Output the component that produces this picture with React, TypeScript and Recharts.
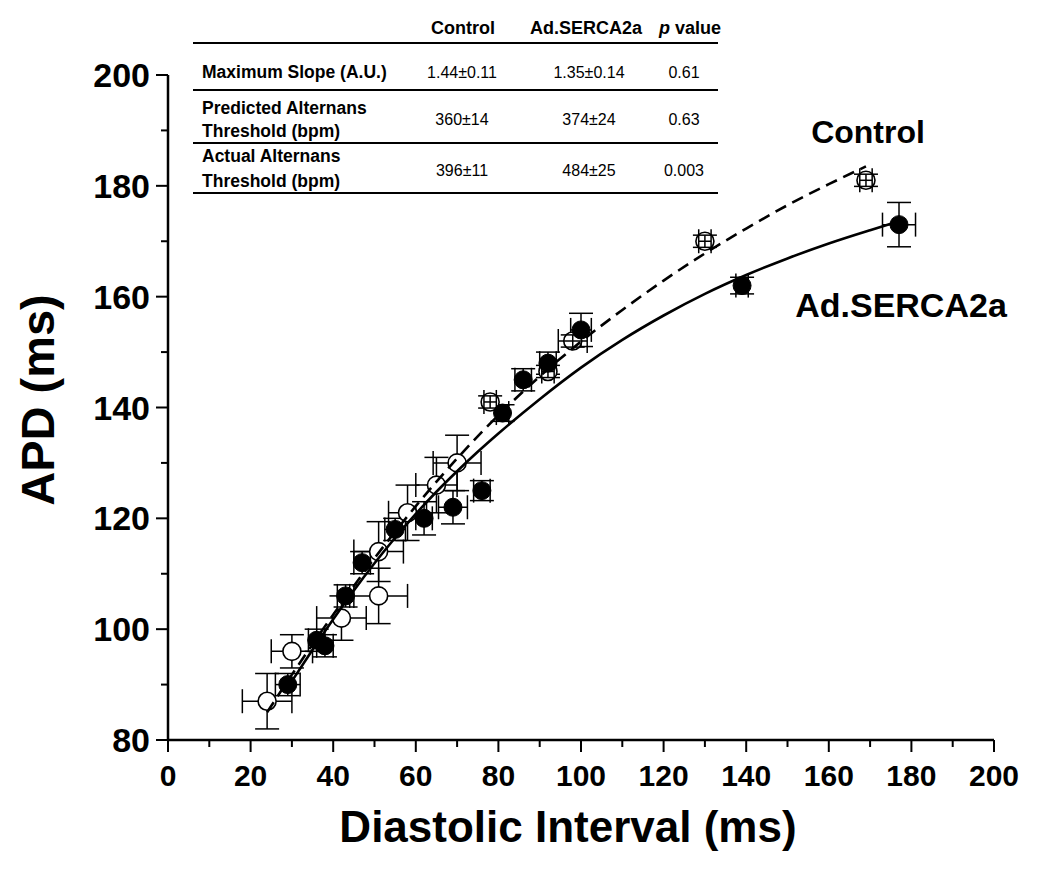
import React from 'react';
import { ComposedChart, Scatter, XAxis, YAxis, ErrorBar } from 'recharts';

// Control, open circles with visible error bars
const controlPoints = [
  { x: 24, y: 87, xerr: 6, yerr: 5 },
  { x: 30, y: 96, xerr: 5, yerr: 3 },
  { x: 42, y: 102, xerr: 6, yerr: 4 },
  { x: 51, y: 106, xerr: 7, yerr: 5 },
  { x: 51, y: 114, xerr: 6, yerr: 5.4 },
  { x: 58, y: 121, xerr: 4.6, yerr: 5 },
  { x: 65, y: 126, xerr: 5, yerr: 5 },
  { x: 70, y: 130, xerr: 5.8, yerr: 5 },
];

// Control points whose error bars sit inside the symbol
const controlSmallErr = [
  { x: 78, y: 141, xerr: 1.5, yerr: 1.1 },
  { x: 92, y: 146.5, xerr: 1.5, yerr: 1.1 },
  { x: 98, y: 152, xerr: 3.5, yerr: 1.1 },
  { x: 130, y: 170, xerr: 1.5, yerr: 1.1 },
  { x: 169, y: 181, xerr: 1.5, yerr: 1.1 },
];

// Ad.SERCA2a, filled circles
const sercaPoints = [
  { x: 29, y: 90, xerr: 3, yerr: 2 },
  { x: 36, y: 98, xerr: 2, yerr: 2 },
  { x: 38, y: 97, xerr: 2, yerr: 2 },
  { x: 43, y: 106, xerr: 2, yerr: 2 },
  { x: 47, y: 112, xerr: 2, yerr: 2 },
  { x: 55, y: 118, xerr: 2.5, yerr: 2 },
  { x: 62, y: 120, xerr: 2, yerr: 3 },
  { x: 69, y: 122, xerr: 3.5, yerr: 3 },
  { x: 76, y: 125, xerr: 2, yerr: 1.8 },
  { x: 81, y: 139, xerr: 1.5, yerr: 1.5 },
  { x: 86, y: 145, xerr: 2, yerr: 2 },
  { x: 92, y: 148, xerr: 2, yerr: 2 },
  { x: 100, y: 154, xerr: 2.5, yerr: 3 },
  { x: 139, y: 162, xerr: 1.5, yerr: 1.5 },
  { x: 177, y: 173, xerr: 4, yerr: 4 },
];

// fitted restitution curves
const controlFit = [
  { x: 24, y: 85 }, { x: 30, y: 91.8 }, { x: 40, y: 102.6 }, { x: 50, y: 112.8 },
  { x: 60, y: 122.2 }, { x: 70, y: 130.8 }, { x: 80, y: 138.6 }, { x: 90, y: 145.6 },
  { x: 100, y: 151.9 }, { x: 110, y: 157.6 }, { x: 120, y: 162.9 }, { x: 130, y: 167.8 },
  { x: 140, y: 172.3 }, { x: 150, y: 176.5 }, { x: 160, y: 180.3 }, { x: 169, y: 183.5 },
];
const sercaFit = [
  { x: 29, y: 89.5 }, { x: 35, y: 96.3 }, { x: 40, y: 101.8 }, { x: 45, y: 107 },
  { x: 50, y: 111.9 }, { x: 55, y: 116.5 }, { x: 60, y: 120.8 }, { x: 65, y: 124.8 },
  { x: 70, y: 128.5 }, { x: 75, y: 132 }, { x: 80, y: 135.3 }, { x: 90, y: 141.5 },
  { x: 100, y: 147.2 }, { x: 110, y: 152.2 }, { x: 120, y: 156.6 }, { x: 130, y: 160.5 },
  { x: 140, y: 163.9 }, { x: 150, y: 166.9 }, { x: 160, y: 169.6 }, { x: 170, y: 172 },
  { x: 177, y: 173.6 },
];

const xTicks = [0, 10, 20, 30, 40, 50, 60, 70, 80, 90, 100, 110, 120, 130, 140, 150, 160, 170, 180, 190, 200];
const yTicks = [80, 90, 100, 110, 120, 130, 140, 150, 160, 170, 180, 190, 200];

const tableHeader = ['Control', 'Ad.SERCA2a'];
const tableLabels = [['Maximum Slope (A.U.)'], ['Predicted Alternans', 'Threshold (bpm)'], ['Actual Alternans', 'Threshold (bpm)']];
const tableControl = ['1.44±0.11', '360±14', '396±11'];
const tableSerca = ['1.35±0.14', '374±24', '484±25'];
const tablePValue = ['0.61', '0.63', '0.003'];

const FONT = '"Liberation Sans", Arial, sans-serif';

const XTick = (props: any) => {
  const { x, y, payload } = props;
  const major = payload.value % 20 === 0;
  return (
    <g>
      <line x1={x} y1={y} x2={x} y2={y + (major ? 12 : 7)} stroke="#000" strokeWidth={2} />
      {major && (
        <text x={x} y={y + 46} textAnchor="middle" fontFamily={FONT} fontWeight="bold" fontSize={30} fill="#000">
          {payload.value}
        </text>
      )}
    </g>
  );
};

const YTick = (props: any) => {
  const { x, y, payload } = props;
  const major = payload.value % 20 === 0;
  return (
    <g>
      <line x1={x - (major ? 12 : 7)} y1={y} x2={x} y2={y} stroke="#000" strokeWidth={2} />
      {major && (
        <text x={x - 18} y={y + 12} textAnchor="end" fontFamily={FONT} fontWeight="bold" fontSize={34} fill="#000">
          {payload.value}
        </text>
      )}
    </g>
  );
};

const OpenDot = (props: any) => (
  <circle cx={props.cx} cy={props.cy} r={9} fill="#fff" stroke="#000" strokeWidth={1.6} />
);
const FilledDot = (props: any) => (
  <circle cx={props.cx} cy={props.cy} r={9} fill="#000" stroke="#000" strokeWidth={1} />
);
const NoDot = () => <g />;

const errProps = { stroke: '#000', strokeWidth: 1.5, width: 12 };

const StatsTable = () => {
  const lines = [35, 82, 135, 185];
  const rowY = [70, 117, 168];
  const labelY = [[70], [106, 129], [154, 179]];
  return (
    <g fontFamily={FONT} fill="#000">
      <text x={455} y={26} textAnchor="middle" fontWeight="bold" fontSize={18}>{tableHeader[0]}</text>
      <text x={578} y={26} textAnchor="middle" fontWeight="bold" fontSize={18}>{tableHeader[1]}</text>
      <text x={682} y={26} textAnchor="middle" fontWeight="bold" fontSize={18}>
        <tspan fontStyle="italic">p</tspan> value
      </text>
      {lines.map((ly) => (
        <line key={ly} x1={185} x2={710} y1={ly} y2={ly} stroke="#000" strokeWidth={2} />
      ))}
      {tableLabels.map((lbl, i) =>
        lbl.map((t, j) => (
          <text key={`${i}-${j}`} x={194} y={labelY[i][j]} fontWeight="bold" fontSize={17.5}>{t}</text>
        ))
      )}
      {rowY.map((ry, i) => (
        <g key={ry} fontSize={16}>
          <text x={454} y={ry} textAnchor="middle">{tableControl[i]}</text>
          <text x={581} y={ry} textAnchor="middle">{tableSerca[i]}</text>
          <text x={676} y={ry} textAnchor="middle">{tablePValue[i]}</text>
        </g>
      ))}
    </g>
  );
};

const App = () => (
  <div style={{ position: 'relative', width: 1042, height: 885 }}>
    <ComposedChart width={1042} height={885} margin={{ top: 67, right: 56, bottom: 0, left: 0 }}>
      <XAxis type="number" dataKey="x" domain={[0, 200]} ticks={xTicks} interval={0}
        allowDataOverflow tick={<XTick />} tickLine={false} tickSize={0} tickMargin={0} height={153}
        axisLine={{ stroke: '#000', strokeWidth: 2.5 }} />
      <YAxis type="number" dataKey="y" domain={[80, 200]} ticks={yTicks} interval={0}
        allowDataOverflow tick={<YTick />} tickLine={false} tickSize={0} tickMargin={0} width={160}
        axisLine={{ stroke: '#000', strokeWidth: 2.5 }} />
      {/* error bars behind the symbols */}
      <Scatter name="Control err" data={controlPoints} shape={NoDot} isAnimationActive={false}>
        <ErrorBar dataKey="xerr" direction="x" {...errProps} />
        <ErrorBar dataKey="yerr" direction="y" {...errProps} />
      </Scatter>
      <Scatter name="Ad.SERCA2a err" data={sercaPoints} shape={NoDot} isAnimationActive={false}>
        <ErrorBar dataKey="xerr" direction="x" {...errProps} />
        <ErrorBar dataKey="yerr" direction="y" {...errProps} />
      </Scatter>
      <Scatter name="Control" data={controlPoints} shape={<OpenDot />} isAnimationActive={false} />
      <Scatter name="Control small" data={controlSmallErr} shape={<OpenDot />} isAnimationActive={false} />
      {/* tiny error bars drawn over the open symbols */}
      <Scatter name="Control small err" data={controlSmallErr} shape={NoDot} isAnimationActive={false} zIndex={650}>
        <ErrorBar dataKey="xerr" direction="x" {...errProps} zIndex={650} />
        <ErrorBar dataKey="yerr" direction="y" {...errProps} zIndex={650} />
      </Scatter>
      <Scatter name="Ad.SERCA2a" data={sercaPoints} shape={<FilledDot />} isAnimationActive={false} zIndex={660} />
      <Scatter name="Control fit" data={controlFit} shape={NoDot} isAnimationActive={false} zIndex={670}
        line={{ stroke: '#000', strokeWidth: 2.6, strokeDasharray: '12 7' }} lineJointType="monotoneX" />
      <Scatter name="Ad.SERCA2a fit" data={sercaFit} shape={NoDot} isAnimationActive={false} zIndex={670}
        line={{ stroke: '#000', strokeWidth: 2.6 }} lineJointType="monotoneX" />
    </ComposedChart>
    <svg width={1042} height={885} style={{ position: 'absolute', left: 0, top: 0, pointerEvents: 'none' }}>
      <StatsTable />
      <text x={860} y={135} textAnchor="middle" fontFamily={FONT} fontWeight="bold" fontSize={32}>Control</text>
      <text x={893} y={309} textAnchor="middle" fontFamily={FONT} fontWeight="bold" fontSize={34}>Ad.SERCA2a</text>
      <text x={560} y={834} textAnchor="middle" fontFamily={FONT} fontWeight="bold" fontSize={44}>Diastolic Interval (ms)</text>
      <text transform="translate(46,392) rotate(-90)" textAnchor="middle" fontFamily={FONT} fontWeight="bold" fontSize={47}>APD (ms)</text>
    </svg>
  </div>
);

export default App;
